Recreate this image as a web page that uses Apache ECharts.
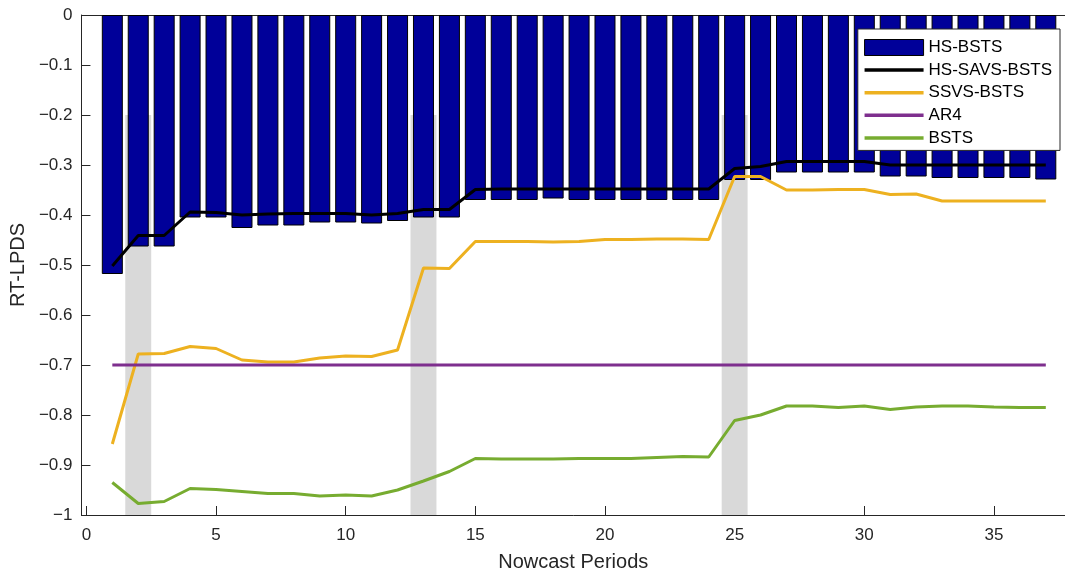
<!DOCTYPE html>
<html>
<head>
<meta charset="utf-8">
<script src="https://cdn.jsdelivr.net/npm/echarts@6/dist/echarts.min.js"></script>
<style>
html,body{margin:0;padding:0;background:#fff;overflow:hidden;}
#c{width:1065px;height:578px;}
</style>
</head>
<body>
<div id="c"></div>
<script>
var periods = [1,2,3,4,5,6,7,8,9,10,11,12,13,14,15,16,17,18,19,20,21,22,23,24,25,26,27,28,29,30,31,32,33,34,35,36,37];
var hsBsts = [-0.518,-0.463,-0.463,-0.405,-0.405,-0.426,-0.421,-0.421,-0.415,-0.415,-0.417,-0.412,-0.405,-0.405,-0.370,-0.370,-0.370,-0.367,-0.370,-0.370,-0.370,-0.370,-0.370,-0.370,-0.330,-0.330,-0.315,-0.315,-0.315,-0.315,-0.323,-0.323,-0.326,-0.326,-0.326,-0.326,-0.329];
var hsSavsBsts = [-0.502,-0.441,-0.441,-0.394,-0.395,-0.400,-0.398,-0.397,-0.397,-0.397,-0.400,-0.397,-0.389,-0.389,-0.349,-0.348,-0.348,-0.348,-0.348,-0.348,-0.348,-0.348,-0.348,-0.348,-0.307,-0.303,-0.293,-0.293,-0.293,-0.293,-0.300,-0.300,-0.300,-0.300,-0.300,-0.300,-0.300];
var ssvsBsts = [-0.858,-0.678,-0.677,-0.663,-0.667,-0.690,-0.694,-0.694,-0.686,-0.682,-0.683,-0.670,-0.506,-0.507,-0.453,-0.453,-0.453,-0.454,-0.453,-0.449,-0.449,-0.448,-0.448,-0.449,-0.323,-0.323,-0.350,-0.350,-0.349,-0.349,-0.359,-0.358,-0.372,-0.372,-0.372,-0.372,-0.372];
var ar4 = [-0.70,-0.70,-0.70,-0.70,-0.70,-0.70,-0.70,-0.70,-0.70,-0.70,-0.70,-0.70,-0.70,-0.70,-0.70,-0.70,-0.70,-0.70,-0.70,-0.70,-0.70,-0.70,-0.70,-0.70,-0.70,-0.70,-0.70,-0.70,-0.70,-0.70,-0.70,-0.70,-0.70,-0.70,-0.70,-0.70,-0.70];
var bsts = [-0.935,-0.977,-0.973,-0.947,-0.949,-0.953,-0.957,-0.957,-0.962,-0.960,-0.962,-0.950,-0.932,-0.913,-0.887,-0.888,-0.888,-0.888,-0.887,-0.887,-0.887,-0.885,-0.883,-0.884,-0.811,-0.800,-0.782,-0.782,-0.785,-0.782,-0.789,-0.784,-0.782,-0.782,-0.784,-0.785,-0.785];
// shaded bands: [xStart, xEnd, yTop, yBottom]
var shadeBands = [[1.5,2.5,-0.2,-1],[12.5,13.5,-0.2,-1],[24.5,25.5,-0.2,-1]];
var xTickLabels = [0,5,10,15,20,25,30,35];

function pairs(ys){ return periods.map(function(p,i){ return [p, ys[i]]; }); }

var FONT = '"Liberation Sans", Arial, Helvetica, sans-serif';
var AX = '#262626';

function lineLegend(name, color){
  return {name: name, itemStyle: {opacity: 0, color: color, borderWidth: 0}, lineStyle: {width: 3.5, color: color}};
}

var chart = echarts.init(document.getElementById('c'), null, {renderer:'canvas'});
chart.setOption({
  animation: false,
  backgroundColor: '#fff',
  textStyle: {fontFamily: FONT},
  grid: {left: 80, right: 0, top: 15, bottom: 63, containLabel: false},
  legend: {
    right: 5, top: 29,
    orient: 'vertical',
    backgroundColor: '#fff',
    borderColor: '#262626',
    borderWidth: 1,
    padding: [10, 8, 4, 5],
    itemWidth: 59,
    itemHeight: 16,
    itemGap: 5.6,
    textStyle: {fontSize: 17, color: '#000', fontFamily: FONT},
    data: [
      {name: 'HS-BSTS', icon: 'rect', itemStyle: {color: '#000099', borderColor: '#000', borderWidth: 1}},
      lineLegend('HS-SAVS-BSTS', '#000000'),
      lineLegend('SSVS-BSTS', '#EDB120'),
      lineLegend('AR4', '#7E2F8E'),
      lineLegend('BSTS', '#77AC30')
    ]
  },
  xAxis: [{
    type: 'value',
    position: 'bottom',
    min: -0.19, max: 37.74,
    name: 'Nowcast Periods',
    nameLocation: 'middle',
    nameGap: 37,
    nameTextStyle: {fontSize: 20, color: AX, fontFamily: FONT},
    axisLine: {show: true, onZero: false, lineStyle: {color: AX, width: 1}},
    axisTick: {show: true, inside: true, length: 9, lineStyle: {color: AX, width: 1}, customValues: xTickLabels},
    axisLabel: {show: true, fontSize: 17, color: AX, margin: 12, fontFamily: FONT, customValues: xTickLabels},
    splitLine: {show: false}
  },{
    type: 'value',
    position: 'top',
    min: -0.19, max: 37.74,
    axisLine: {show: true, onZero: false, lineStyle: {color: AX, width: 1}},
    axisTick: {show: false, length: 0},
    axisLabel: {show: false},
    splitLine: {show: false}
  }],
  yAxis: {
    type: 'value',
    min: -1, max: 0, interval: 0.1,
    name: 'RT-LPDS',
    nameLocation: 'middle',
    nameGap: 47,
    nameRotate: 90,
    nameTextStyle: {fontSize: 20, color: AX, fontFamily: FONT},
    axisLine: {show: true, onZero: false, lineStyle: {color: AX, width: 1}},
    axisTick: {show: true, inside: true, length: 9, lineStyle: {color: AX}},
    axisLabel: {
      fontSize: 17, color: AX, margin: 9, fontFamily: FONT,
      formatter: function(v){ var r = Math.round(v*10)/10; return r === 0 ? '0' : String(r).replace('-', '\u2212'); }
    },
    splitLine: {show: false}
  },
  series: [
    {
      type: 'custom',
      name: 'shade',
      z: 1,
      silent: true,
      data: shadeBands,
      encode: {x: [0,1], y: [2,3]},
      renderItem: function(params, api){
        var p0 = api.coord([api.value(0), api.value(2)]);
        var p1 = api.coord([api.value(1), api.value(3)]);
        return {type: 'rect', shape: {x: p0[0], y: p0[1], width: p1[0]-p0[0], height: p1[1]-p0[1]}, style: {fill: '#D9D9D9'}};
      }
    },
    {
      type: 'bar',
      name: 'HS-BSTS',
      z: 2,
      barWidth: 21,
      data: pairs(hsBsts),
      itemStyle: {color: '#000099', borderColor: '#000', borderWidth: 1}
    },
    {
      type: 'line', name: 'HS-SAVS-BSTS', z: 5, symbol: 'none', showSymbol: false,
      data: pairs(hsSavsBsts), lineStyle: {color: '#000000', width: 3}, itemStyle: {color: '#000000'}
    },
    {
      type: 'line', name: 'SSVS-BSTS', z: 4, symbol: 'none', showSymbol: false,
      data: pairs(ssvsBsts), lineStyle: {color: '#EDB120', width: 3}, itemStyle: {color: '#EDB120'}
    },
    {
      type: 'line', name: 'AR4', z: 4, symbol: 'none', showSymbol: false,
      data: pairs(ar4), lineStyle: {color: '#7E2F8E', width: 3}, itemStyle: {color: '#7E2F8E'}
    },
    {
      type: 'line', name: 'BSTS', z: 4, symbol: 'none', showSymbol: false,
      data: pairs(bsts), lineStyle: {color: '#77AC30', width: 3}, itemStyle: {color: '#77AC30'}
    }
  ]
});
</script>
</body>
</html>
